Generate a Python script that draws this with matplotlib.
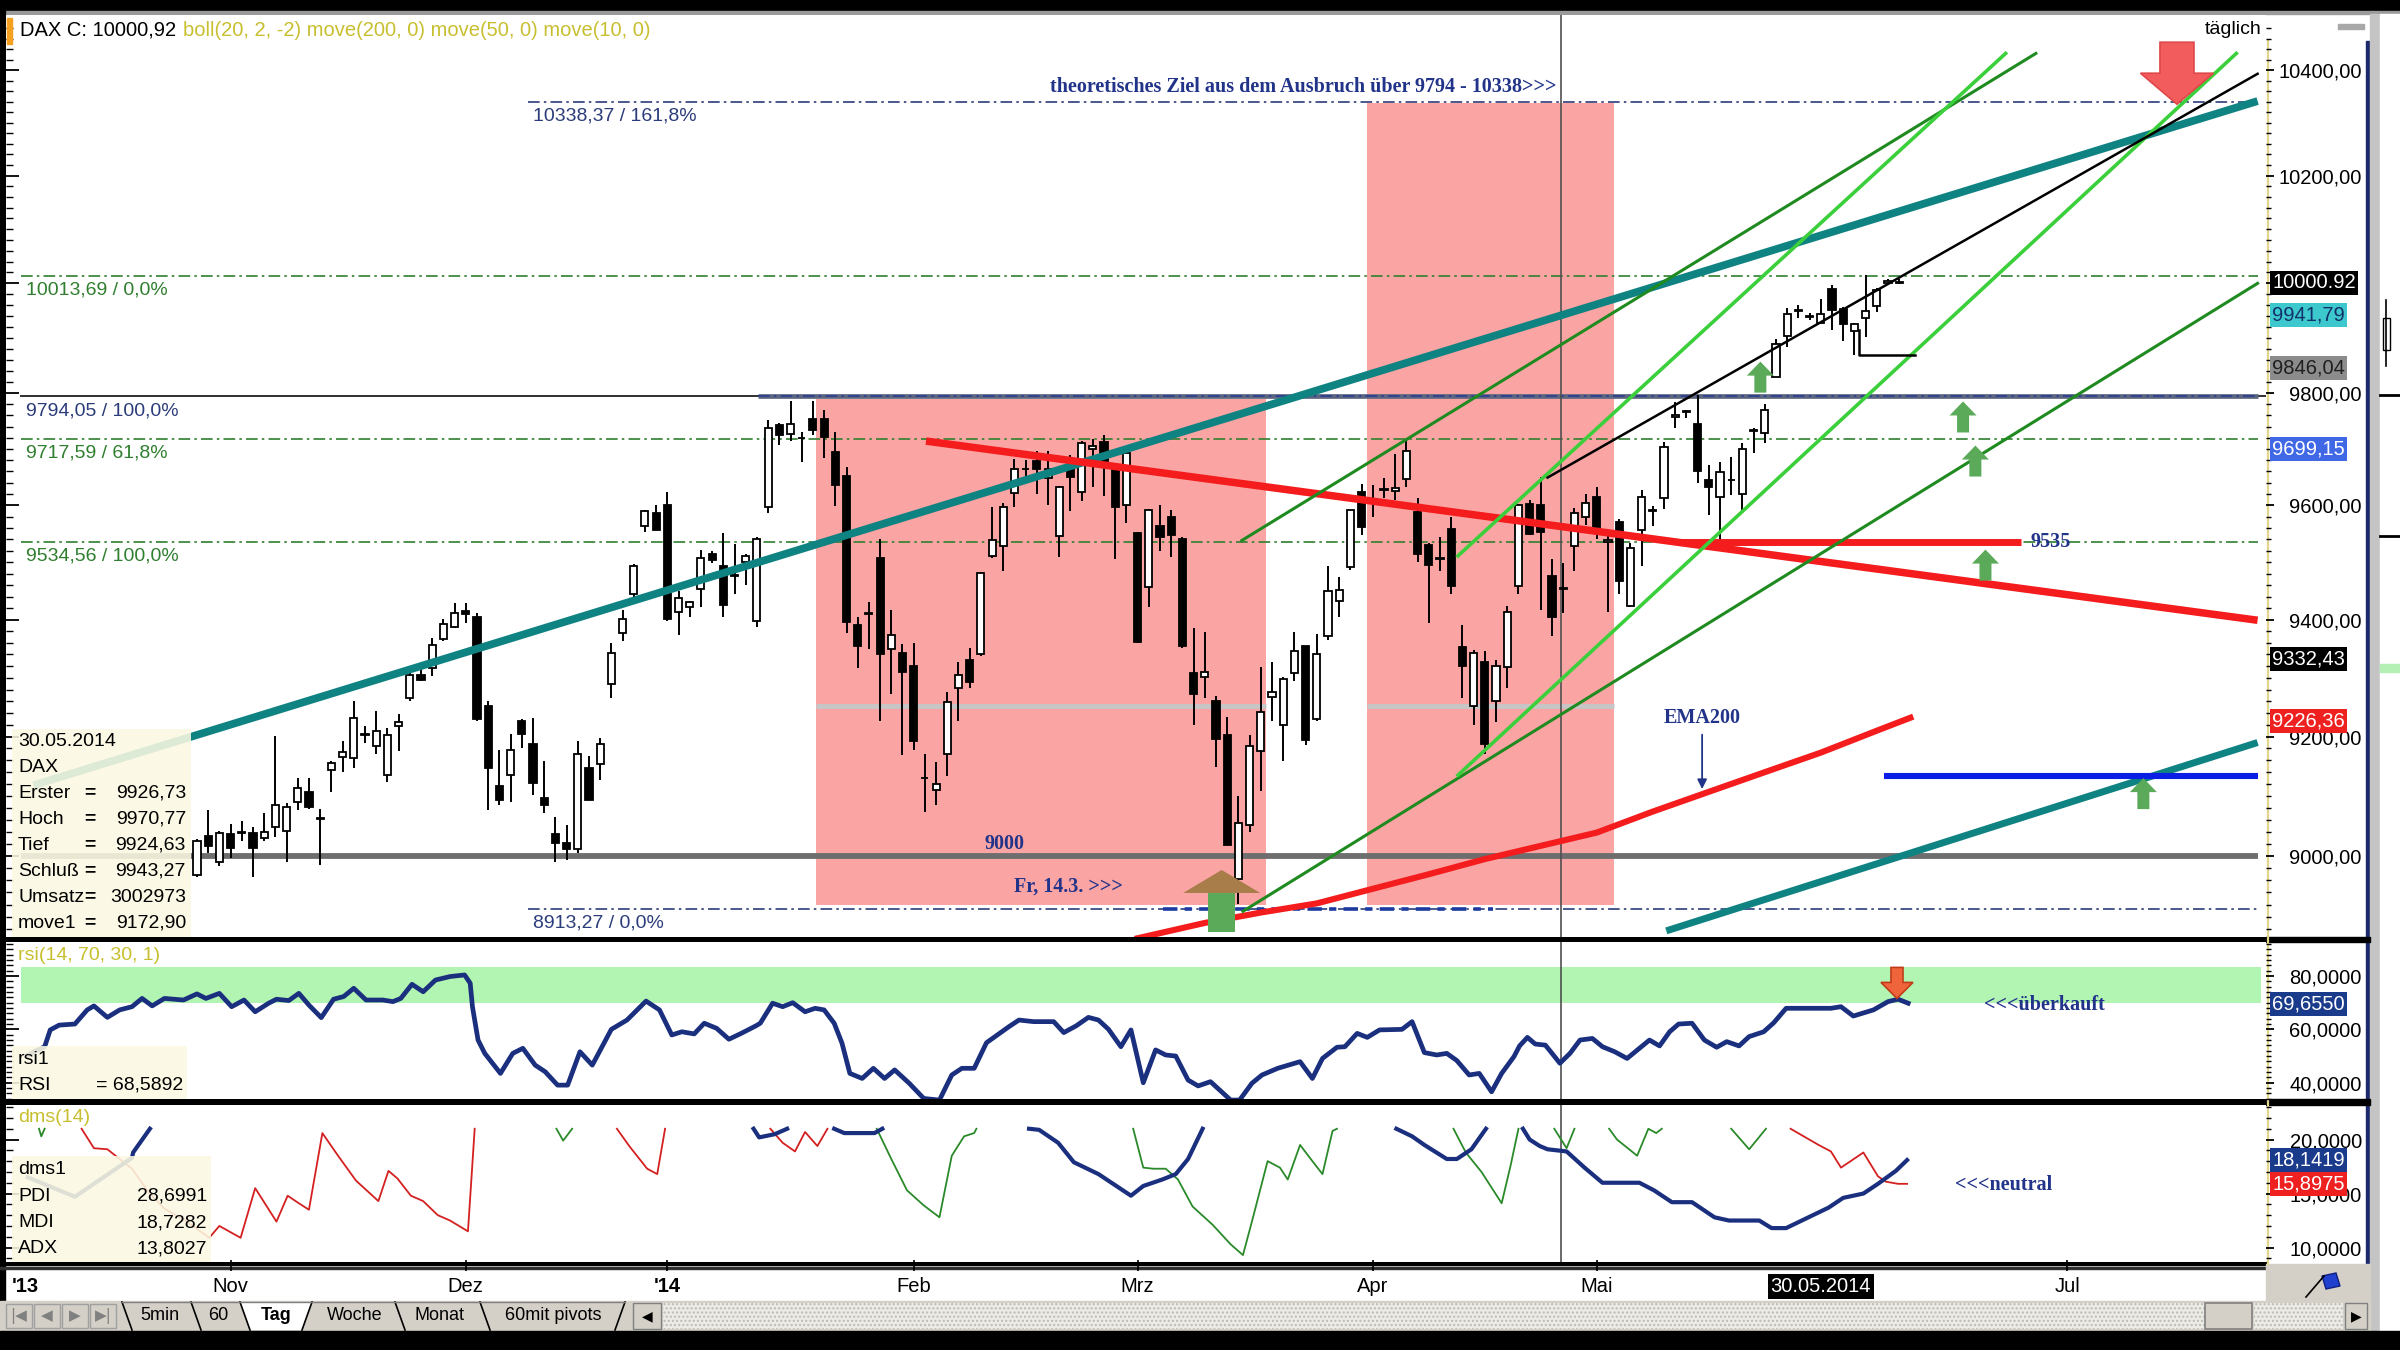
import matplotlib
matplotlib.use("Agg")
import numpy as np
import matplotlib.pyplot as plt
import matplotlib.transforms as mtransforms
from matplotlib.patches import Rectangle, Polygon
from matplotlib.ticker import FixedLocator, NullFormatter, FuncFormatter

plt.rcParams['font.family'] = ['Liberation Sans', 'DejaVu Sans']

# ---------------- data (bar index 0 = 29.10.2013, 145 = 30.05.2014) ----------------
opens = [8968, 9034, 8991, 9036, 9039, 9039, 9030, 9048, 9042, 9090,
         9107, 9062, 9144, 9166, 9164, 9203, 9184, 9136, 9218, 9265,
         9304, 9317, 9367, 9388, 9415, 9405, 9252, 9116, 9136, 9226,
         9187, 9097, 9036, 9021, 9011, 9147, 9154, 9289, 9377, 9444,
         9563, 9586, 9600, 9413, 9422, 9453, 9515, 9494, 9476, 9500,
         9397, 9597, 9743, 9726, 9720, 9754, 9754, 9694, 9651, 9391,
         9410, 9508, 9350, 9343, 9321, 9131, 9110, 9170, 9282, 9330,
         9340, 9511, 9529, 9621, 9664, 9678, 9648, 9545, 9665, 9624,
         9700, 9712, 9664, 9601, 9551, 9456, 9563, 9580, 9541, 9308,
         9301, 9260, 9202, 8962, 9052, 9176, 9268, 9220, 9308, 9355,
         9229, 9371, 9433, 9492, 9623, 9606, 9628, 9626, 9647, 9588,
         9530, 9508, 9558, 9353, 9252, 9327, 9260, 9318, 9458, 9603,
         9600, 9475, 9455, 9528, 9580, 9615, 9535, 9571, 9423, 9556,
         9590, 9613, 9757, 9768, 9745, 9645, 9615, 9644, 9619, 9732,
         9728, 9830, 9903, 9950, 9939, 9926.73, 9989, 9952, 9912, 9936,
         9959, 10000, 10003]
highs = [9028, 9076, 9042, 9054, 9059, 9048, 9071, 9201, 9088, 9130,
         9130, 9079, 9158, 9192, 9260, 9218, 9243, 9215, 9238, 9314,
         9320, 9368, 9402, 9429, 9429, 9411, 9260, 9178, 9204, 9229,
         9232, 9158, 9065, 9051, 9192, 9167, 9197, 9360, 9416, 9497,
         9591, 9600, 9623, 9450, 9432, 9521, 9520, 9551, 9531, 9515,
         9544, 9751, 9747, 9786, 9730, 9786, 9769, 9731, 9667, 9404,
         9430, 9541, 9416, 9358, 9360, 9170, 9157, 9275, 9327, 9351,
         9483, 9597, 9604, 9682, 9680, 9696, 9697, 9634, 9690, 9714,
         9718, 9725, 9673, 9696, 9553, 9594, 9601, 9591, 9544, 9385,
         9379, 9269, 9233, 9100, 9202, 9318, 9327, 9301, 9379, 9355,
         9375, 9493, 9474, 9591, 9637, 9635, 9648, 9691, 9718, 9612,
         9533, 9544, 9579, 9391, 9348, 9346, 9330, 9424, 9603, 9609,
         9650, 9505, 9498, 9596, 9620, 9633, 9545, 9575, 9533, 9627,
         9599, 9713, 9784, 9770, 9796, 9671, 9677, 9686, 9710, 9737,
         9781, 9899, 9954, 9960, 9945, 9970.77, 9997, 9956, 9927, 10015,
         9991, 10008, 10008]
lows = [8966, 9005, 8983, 8997, 9025, 8966, 9025, 9031, 8991, 9076,
        9079, 8985, 9107, 9141, 9147, 9190, 9170, 9124, 9175, 9260,
        9294, 9303, 9363, 9385, 9394, 9226, 9076, 9085, 9090, 9181,
        9102, 9071, 8991, 8994, 9005, 9093, 9127, 9266, 9363, 9440,
        9553, 9556, 9397, 9373, 9404, 9422, 9498, 9405, 9445, 9461,
        9388, 9586, 9707, 9715, 9676, 9724, 9683, 9599, 9377, 9316,
        9350, 9227, 9272, 9169, 9178, 9074, 9085, 9134, 9227, 9283,
        9338, 9507, 9484, 9597, 9640, 9620, 9600, 9509, 9590, 9607,
        9632, 9617, 9506, 9569, 9360, 9422, 9520, 9509, 9351, 9220,
        9266, 9148, 9019, 8921, 9040, 9109, 9227, 9158, 9294, 9185,
        9226, 9365, 9404, 9487, 9547, 9580, 9613, 9610, 9632, 9500,
        9395, 9484, 9444, 9265, 9220, 9170, 9225, 9282, 9445, 9547,
        9417, 9371, 9412, 9485, 9565, 9541, 9414, 9445, 9422, 9494,
        9563, 9594, 9737, 9755, 9639, 9583, 9537, 9618, 9586, 9693,
        9710, 9829, 9884, 9936, 9933, 9924.63, 9914, 9894, 9869, 9902,
        9947, 9997, 9999]
closes = [9025, 9017, 9038, 9014, 9040, 9014, 9040, 9085, 9082, 9113,
          9082, 9062, 9156, 9174, 9232, 9203, 9209, 9203, 9225, 9304,
          9297, 9357, 9392, 9411, 9410, 9229, 9147, 9093, 9178, 9204,
          9122, 9085, 9022, 9011, 9170, 9093, 9187, 9343, 9402, 9493,
          9589, 9557, 9401, 9437, 9430, 9508, 9503, 9425, 9478, 9511,
          9541, 9737, 9724, 9745, 9719, 9733, 9722, 9635, 9396, 9354,
          9412, 9340, 9373, 9310, 9192, 9130, 9120, 9259, 9304, 9293,
          9481, 9538, 9597, 9664, 9665, 9664, 9664, 9632, 9650, 9710,
          9705, 9678, 9597, 9693, 9362, 9591, 9544, 9547, 9354, 9272,
          9310, 9196, 9019, 9055, 9184, 9242, 9276, 9298, 9346, 9194,
          9340, 9449, 9452, 9591, 9562, 9608, 9627, 9630, 9697, 9514,
          9495, 9506, 9458, 9320, 9343, 9187, 9321, 9413, 9600, 9549,
          9553, 9405, 9453, 9586, 9604, 9561, 9538, 9467, 9524, 9614,
          9592, 9703, 9760, 9766, 9660, 9633, 9659, 9645, 9700, 9733,
          9770, 9889, 9944, 9950, 9939, 9943.27, 9951, 9926, 9926, 9950,
          9987, 10004, 10000.92]

# EMA200 (move1)
ema_x = [84, 90, 95, 100, 105, 110, 115, 120, 125, 130, 135, 140, 145, 150, 153]
ema_p = [8865, 8890, 8907, 8922, 8946, 8970, 8995, 9017, 9039, 9074, 9107, 9140, 9172.9, 9210, 9232]

# Fibonacci / horizontal levels
fib_levels = [10338.37, 10013.69, 9794.05, 9717.59, 9534.56, 8913.27]
fib_texts = ['10338,37 / 161,8%', '10013,69 / 0,0%', '9794,05 / 100,0%',
             '9717,59 / 61,8%', '9534,56 / 100,0%', '8913,27 / 0,0%']
fib_start = [29.6, -15.7, -15.7, -15.7, -15.7, 29.6]
support_level = 9000

# drawn trend lines (bar index, price)
teal_x, teal_p = [-14.6, 184.0], [9118, 10341]
teal2_x, teal2_p = [131.2, 184.0], [8877, 9190]
red_x, red_p = [65.1, 184.0], [9714, 9399]
res_x, res_p = [132.5, 162.9], [9535, 9535]
blue_x, blue_p = [150.6, 184.0], [9133, 9133]
dkg_a_x, dkg_a_p = [93.3, 164.2], [9538, 10432]
dkg_b_x, dkg_b_p = [93.4, 184.0], [8909, 10000]
ltg_a_x, ltg_a_p = [112.6, 161.5], [9511, 10432]
ltg_b_x, ltg_b_p = [112.6, 182.1], [9135, 10432]
blk_x, blk_p = [120.6, 184.0], [9649, 10393]
sup_x, sup_p = [148.4, 148.4, 153.4], [9914, 9869, 9869]

# shaded zones
zone_x0 = [55.3, 104.5]
zone_x1 = [95.5, 126.5]
zone_top = [9790, 10338]
zone_bot = [8920, 8920]
zone_mid = 9252

# arrows (tip positions)
up_arrow_x = [139.6, 157.7, 158.8, 159.7, 173.8]
up_arrow_p = [9857, 9785, 9706, 9522, 9130]

# RSI(14)
rsi_x = [-15.1, -13.6, -13.1, -12.3, -10.9, -9.8, -9.2, -8.0, -6.9, -5.8, -4.9, -4.0, -2.9, -1.2,
         0.0, 0.8, 2.0, 3.1, 4.2, 5.2, 6.4, 7.1, 8.2, 9.1, 10.0, 11.1, 12.2, 13.1, 14.0, 15.1,
         16.6, 17.5, 18.2, 19.2, 20.2, 21.3, 22.6, 23.9, 24.4, 24.6, 25.1, 25.7, 27.1, 28.2,
         29.1, 30.2, 31.1, 32.2, 33.1, 34.2, 35.3, 37.0, 38.4, 40.1, 41.3, 42.4, 43.3, 44.4,
         45.3, 46.4, 47.5, 48.6, 49.9,
         50.3, 51.4, 52.3, 53.2, 54.3, 55.2, 56.0, 56.9, 57.6, 58.3, 59.4, 60.4, 61.4, 62.3,
         63.6, 64.9, 66.3, 67.4, 68.3, 69.4, 70.5, 71.6, 72.5, 73.4, 74.7, 76.5, 77.4, 78.5,
         79.6, 80.5, 81.4, 82.5, 83.4, 84.5, 85.6, 86.5, 87.4, 88.5, 89.4, 90.5, 92.3, 93.1,
         94.2, 95.1, 96.5, 98.5, 99.6, 100.5, 101.8, 102.5, 103.6, 104.5, 105.6, 107.6, 108.5,
         109.6, 110.7, 111.6, 112.5, 113.6, 114.5, 115.6, 116.5, 117.6,
         118.1, 118.8, 119.5, 120.4, 121.0, 121.7, 122.6, 123.5, 124.6, 125.5, 126.6, 127.7,
         128.8, 129.7, 130.6, 131.5, 132.3, 133.5, 134.6, 135.7, 136.6, 137.7, 138.6, 139.9,
         140.8, 141.9, 143.0, 145.9, 146.8, 147.9, 149.7, 151.0, 151.9, 152.8]
rsi_v = [50.4, 53.5, 59.8, 61.6, 62.0, 67.3, 68.8, 64.5, 67.3, 68.5, 71.6, 68.8, 71.6, 71.0,
         73.3, 71.6, 73.5, 68.5, 71.0, 66.6, 69.8, 71.3, 70.8, 73.5, 69.1, 64.4, 71.3, 72.3, 75.4, 71.0,
         71.0, 70.4, 71.6, 76.9, 74.1, 78.5, 79.8, 80.4, 77.3, 68.5, 56.0, 51.0, 43.5, 51.0,
         52.9, 46.6, 44.1, 39.1, 39.1, 51.6, 46.6, 60.0, 63.5, 70.6, 67.3, 57.9, 59.1, 58.3,
         62.3, 60.4, 56.3, 58.5, 61.3,
         62.3, 69.8, 68.5, 70.0, 66.6, 67.9, 67.3, 62.3, 54.8, 43.5, 41.6, 45.4, 41.6, 44.8,
         39.8, 34.1, 33.5, 42.9, 45.4, 45.4, 55.0, 58.3, 61.0, 63.5, 62.9, 62.9, 58.8, 61.3,
         64.5, 63.5, 60.0, 53.5, 59.8, 40.0, 52.3, 50.4, 50.0, 41.0, 38.8, 40.4, 33.5, 33.5,
         39.8, 42.9, 45.4, 47.9, 41.6, 49.1, 53.3, 53.5, 58.5, 57.0, 59.8, 60.0, 62.9,
         51.3, 50.4, 51.0, 48.3, 42.9, 43.5, 36.6, 43.5, 49.8,
         53.8, 57.0, 54.5, 54.1, 51.0, 47.3, 51.0, 56.0, 56.6, 53.5, 51.6, 49.1,
         52.9, 56.0, 53.8, 59.1, 62.0, 62.3, 56.0, 53.3, 55.4, 53.8, 57.3, 59.1,
         62.5, 67.9, 67.9, 67.9, 68.5, 65.0, 67.3, 70.4, 71.3, 69.8]

# DMS(14): ADX (navy), MDI (red), PDI (green); nan = line leaves the visible band
nan = float('nan')
adx_x = [-15.1, -10.9, -5.8, -5.7, -4.2, nan,
         49.7, 50.2, 51.6, 52.7, nan,
         56.9, 57.8, 60.5, 61.2, nan,
         74.3, 75.2, 76.9, 78.3, 80.5, 83.4, 84.5, 86.2, 87.4, 88.5, 89.8, nan,
         107.1, 108.5, 109.6, 111.6, 112.5, 113.8, 115.1, nan,
         118.4, 119.0, 119.9, 120.6, 122.3, 123.9, 125.5, 128.8, 130.1, 131.7, 133.5, 135.5,
         136.8, 139.5, 140.6, 141.9, 143.9, 145.7, 147.0, 148.8, 150.1, 151.7, 152.7]
adx_v = [16.5, 14.7, 18.3, 18.8, 21.0, nan,
         21.0, 20.2, 20.5, 21.0, nan,
         21.0, 20.6, 20.6, 21.0, nan,
         21.0, 20.9, 19.7, 17.9, 16.8, 14.8, 15.7, 16.3, 16.8, 18.2, 21.0, nan,
         21.0, 20.3, 19.5, 18.2, 18.2, 19.1, 21.0, nan,
         21.0, 20.0, 19.4, 19.1, 18.9, 17.4, 16.0, 16.0, 15.3, 14.2, 14.2, 12.8,
         12.5, 12.5, 11.8, 11.8, 12.8, 13.7, 14.6, 15.0, 15.9, 17.1, 18.1]
mdi_x = [-10.3, -9.2, -8.0, -5.8, -4.3, -2.9, -0.9, 1.1, 2.0, 3.9, 5.2, 7.1, 8.1, 9.1, 10.0,
         11.2, 12.6, 14.2, 16.2, 17.1, 17.9, 19.1, 20.2, 21.5, 22.6, 24.2, 24.8, nan,
         37.5, 38.6, 40.2, 41.1, 41.8, nan,
         51.2, 52.3, 53.4, 54.3, 55.4, 56.3, nan,
         142.3, 144.8, 145.9, 146.8, 148.8, 150.1, 150.8, 151.9, 152.7]
mdi_v = [21.0, 19.2, 19.1, 17.3, 15.1, 13.6, 12.4, 10.9, 12.0, 10.9, 15.5, 12.4, 14.8, 14.1, 13.5,
         20.6, 18.5, 16.2, 14.3, 17.1, 16.4, 14.8, 14.3, 13.0, 12.5, 11.5, 21.0, nan,
         21.0, 19.4, 17.3, 16.8, 21.0, nan,
         21.0, 19.7, 18.9, 20.7, 19.4, 21.0, nan,
         21.0, 19.5, 18.9, 17.4, 18.8, 16.6, 16.1, 15.9, 15.9]
pdi_x = [-14.1, -13.9, -13.6, nan,
         32.1, 32.7, 33.5, nan,
         60.7, 62.0, 63.4, 64.9, 66.3, 67.4, 68.5, 69.4, 69.6, nan,
         83.6, 84.5, 85.4, 86.5, 87.6, 88.9, 90.7, 92.3, 93.4, 94.2, 95.6, 96.7, 97.4, 98.5,
         99.6, 100.5, 101.4, 101.8, nan,
         112.2, 113.3, 114.7, 116.5, 117.3, 118.0, nan,
         121.2, 122.3, 123.0, nan,
         126.1, 126.8, 128.6, 129.6, 130.3, 130.8, nan,
         137.0, 138.6, 140.1]
pdi_v = [21.0, 20.3, 21.0, nan,
         21.0, 19.9, 21.0, nan,
         21.0, 18.2, 15.3, 13.9, 12.8, 18.5, 20.3, 20.6, 21.0, nan,
         21.0, 17.4, 17.3, 17.3, 16.3, 13.8, 12.1, 10.3, 9.3, 12.4, 18.0, 17.4, 16.3, 19.5,
         18.0, 16.8, 20.8, 21.0, nan,
         21.0, 18.8, 17.0, 14.1, 17.6, 21.0, nan,
         21.0, 19.2, 21.0, nan,
         21.0, 20.0, 18.5, 21.0, 20.6, 21.0, nan,
         21.0, 19.1, 21.0]

# right-hand value boxes
price_marks = [10000.92, 9941.79, 9846.04, 9699.15, 9332.43, 9226.36]
price_mark_txt = ['10000.92', '9941,79', '9846,04', '9699,15', '9332,43', '9226,36']
price_mark_bg = ['black', '#3cc8cc', '#8c8c8c', '#4068e6', 'black', '#ee2020']
price_mark_fg = ['white', '#12306a', '#202020', 'white', 'white', 'white']
rsi_last = 69.6550
adx_last, mdi_last = 18.1419, 15.8975

# date axis
month_labels = ['Nov', 'Dez', "'14", 'Feb', 'Mrz', 'Apr', 'Mai', 'Jul']
month_bars = [3, 24, 42, 64, 84, 105, 125, 167]
cursor_bar = 121.8
info_bar = 145

# ---------------- layout helpers ----------------
W, H = 2400, 1350
XL = (-17.05, 184.75)
NAVY = '#22348a'
FIBNAVY = '#2b3c7a'
FIBGREEN = '#2f7f2f'
OLIVE = '#c8bf30'
SERIF = ['Liberation Serif', 'DejaVu Serif']

fig = plt.figure(figsize=(24, 13.5), dpi=100)
fig.patch.set_facecolor('white')


def px_box(l, t, r, b, **kw):
    return fig.add_axes([l / W, 1 - b / H, (r - l) / W, (b - t) / H], **kw)


def rect(a, l, t, r, b, **kw):
    a.add_patch(Rectangle((l, t), r - l, b - t, **kw))


def fmt(v, nd):
    return f'{v:.{nd}f}'.replace('.', ',')


def arrow(a, x, y, hw, hh, sw, sh, fc, ec='none', up=True, shaft_fc=None, z=7):
    s = -1 if up else 1
    k = 0.01
    tr = fig.dpi_scale_trans + mtransforms.ScaledTranslation(x, y, a.transData)
    if shaft_fc is None:
        pts = [(-sw / 2, s * (hh + sh)), (-sw / 2, s * hh), (-hw / 2, s * hh), (0, 0),
               (hw / 2, s * hh), (sw / 2, s * hh), (sw / 2, s * (hh + sh))]
        a.add_patch(Polygon([(u * k, v * k) for u, v in pts], closed=True, transform=tr,
                            fc=fc, ec=ec, lw=1.2, zorder=z, clip_on=False))
    else:
        shaft = [(-sw / 2, s * hh), (sw / 2, s * hh), (sw / 2, s * (hh + sh)), (-sw / 2, s * (hh + sh))]
        head = [(-hw / 2, s * hh), (0, 0), (hw / 2, s * hh)]
        a.add_patch(Polygon([(u * k, v * k) for u, v in shaft], closed=True, transform=tr,
                            fc=shaft_fc, ec='none', zorder=z, clip_on=False))
        a.add_patch(Polygon([(u * k, v * k) for u, v in head], closed=True, transform=tr,
                            fc=fc, ec='none', zorder=z, clip_on=False))


def clean(a):
    for sp in a.spines.values():
        sp.set_visible(False)
    a.tick_params(axis='x', bottom=False, labelbottom=False, top=False)


def right_scale(a, lim, major, minor, nd, log=False, hidden=()):
    r = a.twinx()
    if log:
        r.set_yscale('log')
    r.set_ylim(lim)
    clean(r)
    r.yaxis.set_major_locator(FixedLocator(major))
    r.yaxis.set_minor_locator(FixedLocator(minor))
    r.yaxis.set_minor_formatter(NullFormatter())
    # a label that sits completely under a value box is not drawn
    r.yaxis.set_major_formatter(FuncFormatter(lambda v, _: '' if v in hidden else fmt(v, nd)))
    r.tick_params(axis='y', which='major', direction='out', length=6, width=1.3, pad=63, labelsize=14.5)
    r.tick_params(axis='y', which='minor', direction='out', length=3.5, width=1.0)
    for lab in r.get_yticklabels():
        lab.set_horizontalalignment('right')
    return r


def left_ticks(a, major, minor):
    a.yaxis.set_major_locator(FixedLocator(major))
    a.yaxis.set_minor_locator(FixedLocator(minor))
    a.yaxis.set_minor_formatter(NullFormatter())
    a.tick_params(axis='y', which='major', direction='in', length=9, width=1.3, labelleft=False, right=False)
    a.tick_params(axis='y', which='minor', direction='in', length=5, width=1.0, right=False)


def value_box(a, v, txt, bgc, fgc):
    a.text(1.0027, v, txt, transform=a.get_yaxis_transform(), ha='left', va='center', fontsize=14.5,
           color=fgc, zorder=8, clip_on=False,
           bbox=dict(boxstyle='square,pad=0.12', fc=bgc, ec='none'))


# ---------------- background chrome ----------------
bg = px_box(0, 0, W, H, zorder=-5)
bg.set_xlim(0, W)
bg.set_ylim(H, 0)
bg.axis('off')
rect(bg, 0, 0, W, 11, color='black')
rect(bg, 0, 11, W, 14, color='#9a9a9a')
rect(bg, 0, 0, 5, 1331, color='black')
rect(bg, 2266, 41, 2368, 1264, color='white')
bg.plot([2267.5, 2267.5], [41, 1264], color='#e2d68a', lw=1.6)
rect(bg, 2366, 41, 2370, 1264, color='#1c2a6c')
rect(bg, 2370, 14, 2380, 1331, color='#c4c4c4')
rect(bg, 2380, 14, 2400, 1331, color='white')
for yy in (395, 536):
    bg.plot([2380, 2400], [yy, yy], color='black', lw=2)
bg.plot([2386, 2386], [300, 366], color='black', lw=1.2)
rect(bg, 2383, 318, 2390, 350, fc='white', ec='black', lw=1)
rect(bg, 2380, 664, 2400, 672, color='#b4f0b4')
rect(bg, 2338, 24, 2364, 29, color='#a8a8a8')
# panel separators
rect(bg, 0, 937, 2370, 942, color='black')
rect(bg, 0, 1099, 2370, 1105, color='black')
rect(bg, 0, 1262, 2266, 1265, color='black')
rect(bg, 0, 1267, 2266, 1268.5, color='#303030')
# date strip right corner
rect(bg, 2266, 1264, 2370, 1301, color='#d4d0c8')
bg.add_patch(Polygon([(2322, 1276), (2336, 1273), (2340, 1286), (2326, 1289)], closed=True, fc='#2040d0', ec='#102080'))
bg.plot([2306, 2324], [1297, 1276], color='black', lw=1.2)
# tab bar
rect(bg, 0, 1301, 2370, 1331, color='#d4d0c8')
rect(bg, 0, 1331, W, H, color='black')
for k, ic in enumerate(['|◀', '◀', '▶', '▶|']):
    x0 = 6 + 28 * k
    rect(bg, x0, 1304, x0 + 26, 1328, fc='#d4d0c8', ec='#a0a0a0', lw=1)
    bg.text(x0 + 13, 1316, ic, ha='center', va='center', fontsize=11, color='#808080',
            family=['DejaVu Sans'])
bg.add_patch(Polygon([(240, 1302), (312, 1302), (302, 1330), (250, 1330)], closed=True, fc='white', ec='none'))
for xt in (122, 191, 240, 395, 480):
    bg.plot([xt, xt + 10], [1302, 1330], color='black', lw=1.2)
for xt in (312, 625):
    bg.plot([xt, xt - 10], [1302, 1330], color='black', lw=1.2)
bg.plot([122, 625], [1302, 1302], color='#808080', lw=1)
for name, xc in zip(['5min', '60', 'Tag', 'Woche', 'Monat', '60mit pivots'], [160, 218, 276, 355, 440, 553]):
    bg.text(xc, 1316, name, ha='center', va='center', fontsize=13,
            fontweight='bold' if name == 'Tag' else 'normal')
rect(bg, 633, 1303, 661, 1329, fc='#d4d0c8', ec='#808080', lw=1)
bg.text(647, 1316, '◀', ha='center', va='center', fontsize=10, family=['DejaVu Sans'])
rect(bg, 663, 1303, 2205, 1329, fc='#ecebe6', ec='#bcbab3', lw=0, hatch='....')
rect(bg, 2205, 1303, 2252, 1329, fc='#d4d0c8', ec='#808080', lw=1.2)
rect(bg, 2254, 1303, 2343, 1329, fc='#ecebe6', ec='#bcbab3', lw=0, hatch='....')
rect(bg, 2345, 1303, 2367, 1329, fc='#d4d0c8', ec='#808080', lw=1)
bg.text(2356, 1316, '▶', ha='center', va='center', fontsize=10, family=['DejaVu Sans'])

# ---------------- price panel ----------------
ax = px_box(6, 15, 2266, 937)
ax.set_yscale('log')
clean(ax)
PL = (8867, 10506)
price_major = [9000, 9200, 9400, 9600, 9800, 10000, 10200, 10400]
price_minor = list(range(8880, 10500, 20))
left_ticks(ax, price_major, price_minor)

for x0, x1, t, b in zip(zone_x0, zone_x1, zone_top, zone_bot):
    ax.add_patch(Rectangle((x0, b), x1 - x0, t - b, fc='#fba4a4', ec='none', zorder=0.5))
    ax.plot([x0, x1], [zone_mid, zone_mid], color='#c6c6c6', lw=3.5, zorder=0.6, solid_capstyle='butt')

dashdot = (0, (7, 2.5, 1.5, 2.5))
for lev, txt, xs in zip(fib_levels, fib_texts, fib_start):
    navy = txt.endswith('161,8%') or lev in (9794.05, 8913.27)
    col = FIBNAVY if navy else FIBGREEN
    if lev == 9794.05:
        ax.plot([xs, XL[1]], [lev, lev], color='#303030', lw=1.4, zorder=1)
        ax.plot([50.1, 184.0], [lev, lev], color='#5c6680', lw=3.4, zorder=1.1, solid_capstyle='butt')
        ax.plot([50.1, 184.0], [lev, lev], color='#2b3c90', lw=1.2, ls=dashdot, zorder=1.2)
    else:
        ax.plot([xs, 184.0], [lev, lev], color=col, lw=1.2, ls=dashdot, zorder=1)
    ax.annotate(txt, xy=(xs + 0.4, lev), xytext=(0, -4), textcoords='offset points',
                ha='left', va='top', fontsize=14, color=col, zorder=6)
ax.plot([86.3, 115.7], [fib_levels[-1], fib_levels[-1]], color='#1c3aa0', lw=2.6, ls=(0, (4, 2, 2, 2)), zorder=1.3)
ax.plot([-15.7, 184.0], [support_level, support_level], color='#6e6e6e', lw=4.2, zorder=1, solid_capstyle='butt')

ax.axvline(cursor_bar, color='#505050', lw=1.2, zorder=2)

# candles
idx = np.arange(len(closes))
o, h, l, c = (np.array(v, dtype=float) for v in (opens, highs, lows, closes))
ax.vlines(idx, l, h, color='black', lw=1.4, zorder=3)
bottoms = np.minimum(o, c)
heights = np.maximum(np.abs(c - o), 0.8)
ax.bar(idx, heights, bottom=bottoms, width=0.64, color=np.where(c >= o, 'white', 'black'),
       edgecolor='black', linewidth=1.3, zorder=4)

# drawn lines
ax.plot(teal_x, teal_p, color='#0f8282', lw=5.6, zorder=5, solid_capstyle='butt')
ax.plot(teal2_x, teal2_p, color='#0f8282', lw=5.0, zorder=5, solid_capstyle='butt')
ax.plot(red_x, red_p, color='#f41c1c', lw=5.4, zorder=5, solid_capstyle='butt')
ax.plot(res_x, res_p, color='#f41c1c', lw=5.0, zorder=5, solid_capstyle='butt')
ax.plot(ema_x, ema_p, color='#f41c1c', lw=4.4, zorder=5)
ax.plot(blue_x, blue_p, color='#0a1ee6', lw=4.4, zorder=5, solid_capstyle='butt')
ax.plot(dkg_a_x, dkg_a_p, color='#1f8a1f', lw=2.2, zorder=5)
ax.plot(dkg_b_x, dkg_b_p, color='#1f8a1f', lw=2.2, zorder=5)
ax.plot(ltg_a_x, ltg_a_p, color='#3ccf3c', lw=2.6, zorder=5)
ax.plot(ltg_b_x, ltg_b_p, color='#3ccf3c', lw=2.6, zorder=5)
ax.plot(blk_x, blk_p, color='black', lw=1.8, zorder=5)
ax.plot(sup_x, sup_p, color='black', lw=1.8, zorder=5)

# annotations
ax.text(76.2, 10367, 'theoretisches Ziel aus dem Ausbruch über 9794 - 10338>>>', ha='left', va='center',
        fontsize=14.5, fontweight='bold', family=SERIF, color=NAVY, zorder=6)
ax.text(163.7, 9535, '9535', ha='left', va='center', fontsize=14.5, fontweight='bold', family=SERIF,
        color=NAVY, zorder=6)
ax.text(70.3, 9003, '9000', ha='left', va='bottom', fontsize=14.5, fontweight='bold', family=SERIF,
        color=NAVY, zorder=6)
ax.text(73.0, 8949, 'Fr, 14.3. >>>', ha='left', va='center', fontsize=14.5, fontweight='bold', family=SERIF,
        color=NAVY, zorder=6)
ax.text(134.4, 9232, 'EMA200', ha='center', va='center', fontsize=14.5, fontweight='bold', family=SERIF,
        color=NAVY, zorder=6)
ax.annotate('', xy=(134.4, 9107), xytext=(134.4, 9208),
            arrowprops=dict(arrowstyle='-|>', color=NAVY, lw=1.3, mutation_scale=14), zorder=6)

for x, p in zip(up_arrow_x, up_arrow_p):
    arrow(ax, x, p, 27, 14, 12, 17, '#5aaa5a')
arrow(ax, 176.8, 10335, 73, 31, 34, 31, '#f25c5c', ec='#e04848', up=False)
arrow(ax, 91.5, 8977, 77, 23, 27, 39, '#a87d4a', up=True, shaft_fc='#5aaa5a')

ax.set_xlim(XL)
ax.set_ylim(PL)
axr = right_scale(ax, PL, price_major, price_minor, 2, log=True, hidden=(10000,))
for v, t, b_, f_ in zip(price_marks, price_mark_txt, price_mark_bg, price_mark_fg):
    value_box(axr, v, t, b_, f_)

# ---------------- RSI panel ----------------
rs = px_box(6, 942, 2266, 1099)
clean(rs)
RL = (33.9, 92.75)
left_ticks(rs, [40, 60, 80], list(np.arange(34, 93, 2)))
rs.add_patch(Rectangle((-15.7, 70), 200.0, 13.3, fc='#b2f5b2', ec='none', zorder=0.5))
rs.axvline(cursor_bar, color='#505050', lw=1.2, zorder=2)
rs.plot(rsi_x, rsi_v, color='#1a2f7e', lw=3.4, zorder=4, solid_joinstyle='round')
arrow(rs, 151.8, 71.6, 32, 16, 12, 15, '#f0643c', ec='#c03c18', up=False)
rs.text(159.6, 69.1, '<<<überkauft', ha='left', va='center', fontsize=14.5, fontweight='bold',
        family=SERIF, color=NAVY, zorder=6)
rs.set_xlim(XL)
rs.set_ylim(RL)
rsr = right_scale(rs, RL, [40, 60, 80], list(np.arange(34, 93, 2)), 4)
value_box(rsr, rsi_last, fmt(rsi_last, 4), '#1a3a8c', 'white')

# ---------------- DMS panel ----------------
dm = px_box(6, 1105, 2266, 1262)
clean(dm)
DL = (8.66, 23.2)
left_ticks(dm, [10, 15, 20], list(range(9, 24)))
dm.axvline(cursor_bar, color='#505050', lw=1.2, zorder=2)
dm.plot(pdi_x, pdi_v, color='#2a8a2a', lw=1.3, zorder=3)
dm.plot(mdi_x, mdi_v, color='#d42020', lw=1.3, zorder=3)
dm.plot(adx_x, adx_v, color='#1a2f7e', lw=3.0, zorder=4)
dm.text(157.0, 15.8, '<<<neutral', ha='left', va='center', fontsize=14.5, fontweight='bold',
        family=SERIF, color=NAVY, zorder=6)
dm.set_xlim(XL)
dm.set_ylim(DL)
dmr = right_scale(dm, DL, [10, 15, 20], list(range(9, 24)), 4)
value_box(dmr, adx_last, fmt(adx_last, 4), '#1a3a8c', 'white')
value_box(dmr, mdi_last, fmt(mdi_last, 4), '#ee2020', 'white')

# ---------------- date strip ----------------
ds = px_box(6, 1268, 2266, 1301)
ds.set_xlim(XL)
ds.set_ylim(0, 1)
ds.axis('off')
ds.vlines(month_bars, 0.9, 1.25, color='black', lw=1.2, clip_on=False)
for pos, lab in zip(month_bars, month_labels):
    ds.text(pos, 0.45, lab, ha='center', va='center', fontsize=14.5,
            fontweight='bold' if lab.startswith("'") else 'normal')
ds.text(XL[0] + 0.5, 0.45, "'13", ha='left', va='center', fontsize=14.5, fontweight='bold')
ds.text(info_bar, 0.45, '30.05.2014', ha='center', va='center', fontsize=14.5, color='white',
        bbox=dict(boxstyle='square,pad=0.15', fc='black', ec='none'))

# ---------------- overlay: header and info boxes ----------------
ov = px_box(0, 0, W, H, zorder=20)
ov.set_xlim(0, W)
ov.set_ylim(H, 0)
ov.axis('off')
ov.patch.set_alpha(0)
rect(ov, 7, 18, 12, 44, color='#f5a020')
t1 = ov.text(20, 30, 'DAX C: ' + f'{closes[-1]:.2f}'.replace('.', ','), ha='left', va='center',
             fontsize=14.5, color='black')
ov.annotate('boll(20, 2, -2) move(200, 0) move(50, 0) move(10, 0)', xy=(1, 0.5), xycoords=t1,
            xytext=(5, 0), textcoords='offset points', ha='left', va='center', fontsize=14.5, color=OLIVE)
ov.text(2205, 30, 'täglich', ha='left', va='center', fontsize=14, color='black')

info_bg = '#fbf9e2'
rect(ov, 12, 729, 191, 937, fc=info_bg, ec='none', alpha=0.88)
info_rows = ['30.05.2014', 'DAX', 'Erster', 'Hoch', 'Tief', 'Schluß', 'Umsatz', 'move1']
info_vals = ['', '', fmt(opens[info_bar], 2), fmt(highs[info_bar], 2), fmt(lows[info_bar], 2),
             fmt(closes[info_bar], 2), '3002973', fmt(ema_p[ema_x.index(info_bar)], 2)]
for k, (lab, val) in enumerate(zip(info_rows, info_vals)):
    yy = 741 + 26 * k
    ov.text(18, yy, lab, ha='left', va='center', fontsize=14)
    if val:
        ov.text(90, yy, '=', ha='center', va='center', fontsize=14, fontweight='bold')
        ov.text(186, yy, val, ha='right', va='center', fontsize=14)

ov.text(18, 955, 'rsi(14, 70, 30, 1)', ha='left', va='center', fontsize=14, color=OLIVE)
rect(ov, 12, 1046, 187, 1099, fc=info_bg, ec='none', alpha=0.88)
ov.text(18, 1059, 'rsi1', ha='left', va='center', fontsize=14)
ov.text(18, 1085, 'RSI', ha='left', va='center', fontsize=14)
ov.text(183, 1085, '= 68,5892', ha='right', va='center', fontsize=14)

ov.text(18, 1117, 'dms(14)', ha='left', va='center', fontsize=14, color=OLIVE)
rect(ov, 12, 1156, 211, 1262, fc=info_bg, ec='none', alpha=0.88)
for k, (lab, val) in enumerate(zip(['dms1', 'PDI', 'MDI', 'ADX'], ['', '28,6991', '18,7282', '13,8027'])):
    yy = 1170 + 26.3 * k
    ov.text(18, yy, lab, ha='left', va='center', fontsize=14)
    if val:
        ov.text(207, yy, val, ha='right', va='center', fontsize=14)

fig.savefig('out.png', dpi=100)
